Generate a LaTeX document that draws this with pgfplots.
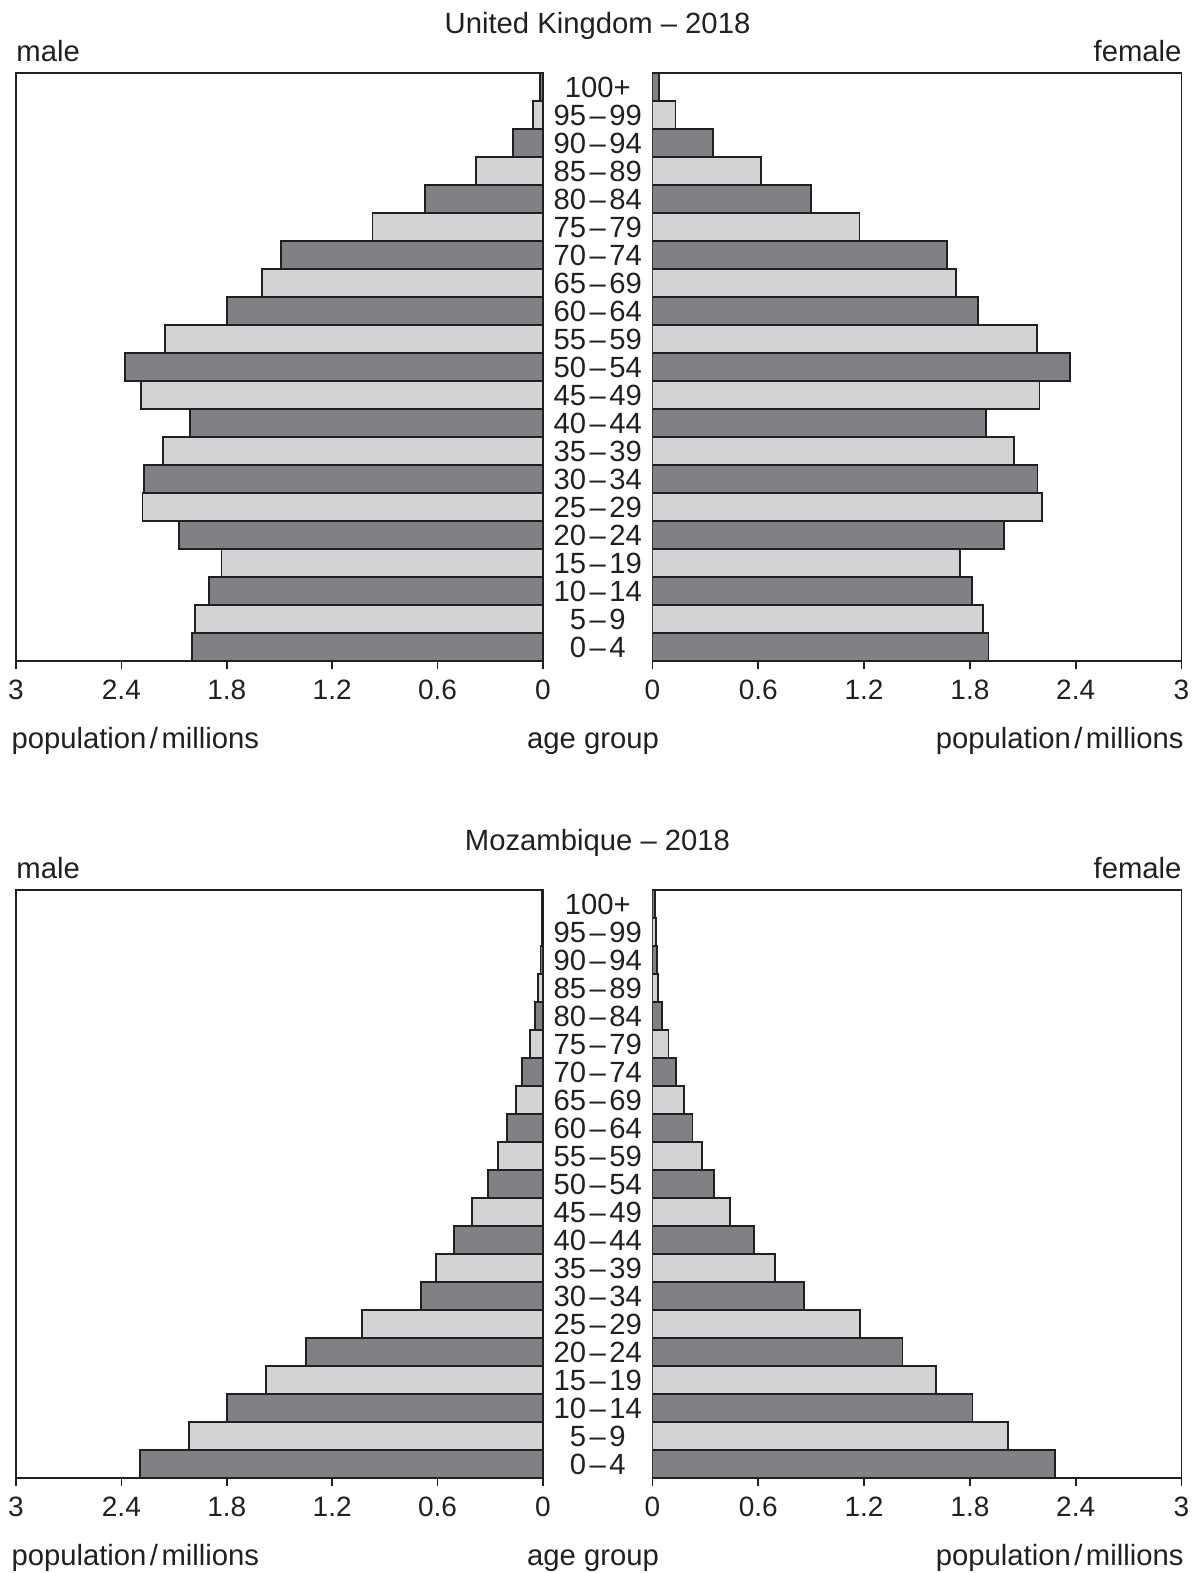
\documentclass[border=0pt]{standalone}
\usepackage{pgfplots}
\pgfplotsset{compat=1.18}
\usepackage{fontspec}
\setmainfont{Liberation Sans}

\definecolor{ink}{HTML}{231F20}
\definecolor{barDark}{HTML}{808184}
\definecolor{barLight}{HTML}{D1D3D4}

\newcommand\ag[2]{#1\kern0.12em--\kern0.12em#2}
\newcommand\popmil{population\kern0.12em/\kern0.12em millions}

\pgfplotsset{
  pyramid/.style={
    scale only axis, height=235.2pt,
    xmin=0, xmax=3, ymin=-0.5, ymax=20.5,
    axis line style={ink, line width=0.7pt},
    xtick={0,0.6,1.2,1.8,2.4,3},
    xticklabels={0,0.6,1.2,1.8,2.4,3},
    ytick=\empty,
    xtick pos=left, tick align=outside,
    major tick length=3.2pt,
    tick style={ink, line width=0.7pt},
    xticklabel style={font=\fontsize{11.2}{13}\selectfont, text=ink, yshift=-0.8pt},
  },
  dk/.style={xbar, bar width=1, bar shift=0pt, fill=barDark, draw=ink, line width=0.7pt},
  lt/.style={xbar, bar width=1, bar shift=0pt, fill=barLight, draw=ink, line width=0.7pt},
}

\begin{document}
\begin{tikzpicture}[font=\fontsize{11.7}{14}\selectfont, text=ink]
\path[use as bounding box] (0,0) rectangle (478pt,-629.2pt);

% United Kingdom, male
\begin{axis}[pyramid, x dir=reverse, width=210.8pt, at={(6.4pt,-264.4pt)}, anchor=south west]
\addplot[dk] coordinates {(2.00,0) (1.90,2) (2.07,4) (2.27,6) (2.01,8) (2.38,10) (1.80,12) (1.49,14) (0.67,16) (0.17,18) (0.017,20)};
\addplot[lt] coordinates {(1.98,1) (1.83,3) (2.28,5) (2.165,7) (2.29,9) (2.15,11) (1.60,13) (0.97,15) (0.38,17) (0.056,19)};
\end{axis}

% United Kingdom, female
\begin{axis}[pyramid, width=211.6pt, at={(261pt,-264.4pt)}, anchor=south west]
\addplot[dk] coordinates {(1.905,0) (1.812,2) (1.995,4) (2.184,6) (1.892,8) (2.368,10) (1.846,12) (1.668,14) (0.897,16) (0.344,18) (0.035,20)};
\addplot[lt] coordinates {(1.875,1) (1.743,3) (2.207,5) (2.052,7) (2.195,9) (2.181,11) (1.721,13) (1.174,15) (0.616,17) (0.131,19)};
\end{axis}

% Mozambique, male
\begin{axis}[pyramid, x dir=reverse, width=210.8pt, at={(6.4pt,-591.2pt)}, anchor=south west]
\addplot[dk] coordinates {(2.295,0) (1.80,2) (1.347,4) (0.695,6) (0.508,8) (0.315,10) (0.205,12) (0.119,14) (0.047,16) (0.014,18) (0.009,20)};
\addplot[lt] coordinates {(2.017,1) (1.575,3) (1.032,5) (0.607,7) (0.406,9) (0.258,11) (0.155,13) (0.073,15) (0.028,17) (0.008,19)};
\end{axis}

% Mozambique, female
\begin{axis}[pyramid, width=211.6pt, at={(261pt,-591.2pt)}, anchor=south west]
\addplot[dk] coordinates {(2.284,0) (1.815,2) (1.418,4) (0.858,6) (0.575,8) (0.348,10) (0.227,12) (0.133,14) (0.055,16) (0.025,18) (0.015,20)};
\addplot[lt] coordinates {(2.016,1) (1.606,3) (1.175,5) (0.696,7) (0.441,9) (0.281,11) (0.178,13) (0.09,15) (0.03,17) (0.019,19)};
\end{axis}

% titles and labels
\foreach \off/\name in {0/United Kingdom, -326.8/Mozambique} {
  \begin{scope}[yshift=\off pt]
    \node[anchor=base, inner sep=0] at (239pt,-13.3pt) {\name\ -- 2018};
    \node[anchor=base west, inner sep=0] at (6.4pt,-24.7pt) {male};
    \node[anchor=base east, inner sep=0] at (472.8pt,-24.7pt) {female};
    \node[anchor=base west, inner sep=0] at (4.4pt,-299.5pt) {\popmil};
    \node[anchor=base, inner sep=0] at (237.2pt,-299.5pt) {age group};
    \node[anchor=base east, inner sep=0] at (473.6pt,-299.5pt) {\popmil};
    \foreach \lab [count=\i from 0] in {\ag{0}{4},\ag{5}{9},\ag{10}{14},\ag{15}{19},\ag{20}{24},\ag{25}{29},\ag{30}{34},\ag{35}{39},\ag{40}{44},\ag{45}{49},\ag{50}{54},\ag{55}{59},\ag{60}{64},\ag{65}{69},\ag{70}{74},\ag{75}{79},\ag{80}{84},\ag{85}{89},\ag{90}{94},\ag{95}{99},100+}
      \node[inner sep=0] at (239.1pt,{-264.4pt+(\i+0.5)*11.2pt}) {\lab};
  \end{scope}
}
\end{tikzpicture}
\end{document}
